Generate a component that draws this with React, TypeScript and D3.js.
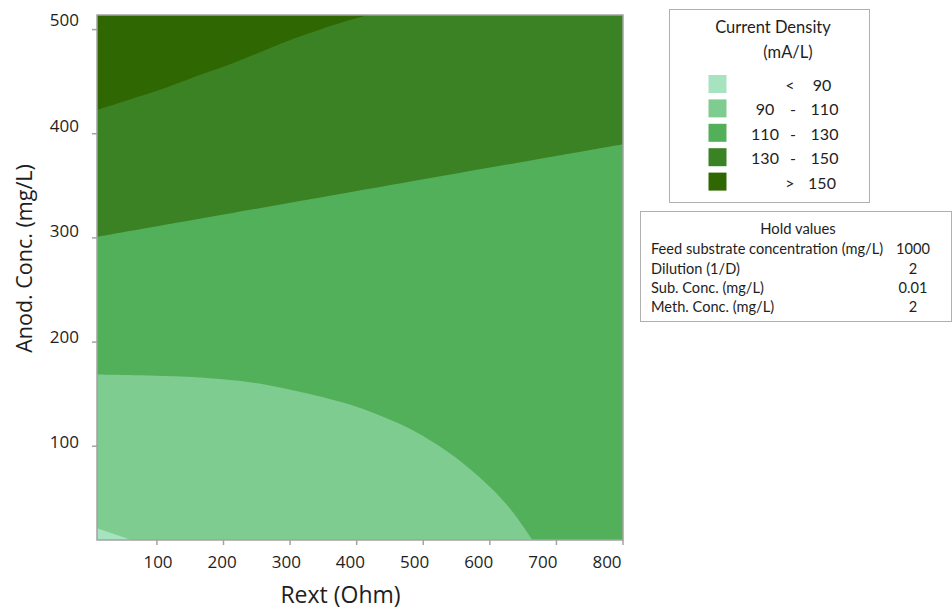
import React from "react";
import * as d3 from "d3";

// ---- data ----
const xTicks = [100, 200, 300, 400, 500, 600, 700, 800];
const yTicks = [100, 200, 300, 400, 500];
const xDomain = [10, 800];
const yDomain = [10, 514];

// contour boundaries (Rext, Anod. Conc.)
const c150Rext = [10, 57, 107, 157, 207, 257, 307, 357, 408, 418];
const c150Conc = [422.8, 432.4, 442.7, 454.8, 466, 478.8, 491.6, 502.8, 512.4, 514];

const c130Rext = [10, 400, 800];
const c130Conc = [301, 345, 390];

const c110Rext = [10, 90, 165, 240, 285, 334, 385, 435, 485, 536, 585, 628, 664];
const c110Conc = [169, 168, 166, 161.5, 156.5, 149.5, 141, 129.6, 115.2, 95, 70, 42, 10];

const c90Rext = [10, 62];
const c90Conc = [21.3, 10];

const legendLabels = [
  ["", "<", "90"],
  ["90", "-", "110"],
  ["110", "-", "130"],
  ["130", "-", "150"],
  ["", ">", "150"],
];
const levelColors = ["#a5e4be", "#7ecc8f", "#52af5a", "#3b8224", "#2f6802"];

const holdNames = [
  "Feed substrate concentration (mg/L)",
  "Dilution (1/D)",
  "Sub. Conc. (mg/L)",
  "Meth. Conc. (mg/L)",
];
const holdValues = ["1000", "2", "0.01", "2"];

export default function App() {
  const W = 952, H = 613;
  const x = d3.scaleLinear().domain(xDomain).range([97, 623]);
  const y = d3.scaleLinear().domain(yDomain).range([540, 15]);
  const xLab = d3.scaleLinear().domain([100, 800]).range([158, 607]);
  const yLab = d3.scaleLinear().domain([100, 500]).range([442, 20]);

  const pts = (xs: number[], ys: number[]) => xs.map((v, i) => [v, ys[i]] as [number, number]);
  const poly = (p: [number, number][]) =>
    "M" + p.map(([a, b]) => `${x(a)},${y(b)}`).join("L") + "Z";
  const curve = (p: [number, number][]) =>
    d3.line<[number, number]>().x(d => x(d[0])).y(d => y(d[1])).curve(d3.curveCatmullRom.alpha(0.5))(p) as string;

  const [x0, x1] = xDomain;
  const [y0, y1] = yDomain;

  const region150 = curve(pts(c150Rext, c150Conc)) + `L${x(x0)},${y(y1)}Z`;
  const region130 = curve(pts(c130Rext, c130Conc)) + `L${x(x1)},${y(y1)}L${x(x0)},${y(y1)}Z`;
  const region110 = curve(pts(c110Rext, c110Conc)) + `L${x(x0)},${y(y0)}Z`;
  const region90 = curve(pts(c90Rext, c90Conc)) + `L${x(x0)},${y(y0)}Z`;

  const font = "'Open Sans', sans-serif";
  const lfont = "Lato, sans-serif";
  const textCol = "#1e1e1e";

  return (
    <svg width={W} height={H} style={{ position: "absolute", left: 0, top: 0 }}>
      <rect x={0} y={0} width={W} height={H} fill="#fff" />
      <defs>
        <clipPath id="plotclip">
          <rect x={x(x0)} y={y(y1)} width={x(x1) - x(x0)} height={y(y0) - y(y1)} />
        </clipPath>
      </defs>
      <g clipPath="url(#plotclip)">
        <path d={poly([[x0, y0], [x1, y0], [x1, y1], [x0, y1]])} fill={levelColors[2]} />
        <path d={region130} fill={levelColors[3]} />
        <path d={region150} fill={levelColors[4]} />
        <path d={region110} fill={levelColors[1]} />
        <path d={region90} fill={levelColors[0]} />
      </g>
      <rect x={x(x0)} y={y(y1)} width={x(x1) - x(x0)} height={y(y0) - y(y1)}
        fill="none" stroke="#a3a3a3" strokeWidth={1.5} />
      {xTicks.map(t => (
        <g key={"xt" + t}>
          <line x1={x(t)} x2={x(t)} y1={540} y2={545} stroke="#a3a3a3" strokeWidth={1.5} />
          <text x={xLab(t)} y={568} textAnchor="middle" fontFamily={font} fontSize={17} fill={textCol}>{t}</text>
        </g>
      ))}
      {yTicks.map(t => (
        <g key={"yt" + t}>
          <line x1={92} x2={97} y1={y(t)} y2={y(t)} stroke="#a3a3a3" strokeWidth={1.5} />
          <text x={79} y={yLab(t)} dy="0.36em" textAnchor="end" fontFamily={font} fontSize={17} fill={textCol}>{t}</text>
        </g>
      ))}
      <text x={340.5} y={602.5} textAnchor="middle" fontFamily={font} fontSize={23} fill={textCol}>Rext (Ohm)</text>
      <text transform={`translate(31.5,258.5) rotate(-90)`} textAnchor="middle" fontFamily={font} fontSize={21.5} fill={textCol}>Anod. Conc. (mg/L)</text>

      {/* legend */}
      <rect x={669.5} y={9.5} width={200} height={193} fill="#fff" stroke="#b0b0b0" strokeWidth={1} />
      <text x={773} y={33} textAnchor="middle" fontFamily={lfont} fontSize={16.5} fill={textCol}>Current Density</text>
      <text x={788} y={58} textAnchor="middle" fontFamily={lfont} fontSize={16.5} fill={textCol}>(mA/L)</text>
      {legendLabels.map((row, i) => {
        const top = 75 + i * 24.4;
        return (
          <g key={"lg" + i}>
            <rect x={708.5} y={top} width={18} height={18} fill={levelColors[i]} />
            <text x={765} y={top + 16} textAnchor="middle" fontFamily={lfont} fontSize={16} fill={textCol}>{row[0]}</text>
            <text x={row[0] ? 793 : 790} y={top + 16} textAnchor="middle" fontFamily={lfont} fontSize={16} fill={textCol}>{row[1]}</text>
            <text x={row[0] ? 824.5 : 822} y={top + 16} textAnchor="middle" fontFamily={lfont} fontSize={16} fill={textCol}>{row[2]}</text>
          </g>
        );
      })}

      {/* hold values */}
      <rect x={640.5} y={211.5} width={311} height={110} fill="#fff" stroke="#b0b0b0" strokeWidth={1} />
      <text x={798} y={234} textAnchor="middle" fontFamily={lfont} fontSize={14.8} fill={textCol}>Hold values</text>
      {holdNames.map((n, i) => (
        <g key={"hv" + i}>
          <text x={651} y={254.3 + i * 19.3} fontFamily={lfont} fontSize={14.6} fill={textCol}>{n}</text>
          <text x={913} y={254.3 + i * 19.3} textAnchor="middle" fontFamily={lfont} fontSize={14.6} fill={textCol}>{holdValues[i]}</text>
        </g>
      ))}
    </svg>
  );
}
